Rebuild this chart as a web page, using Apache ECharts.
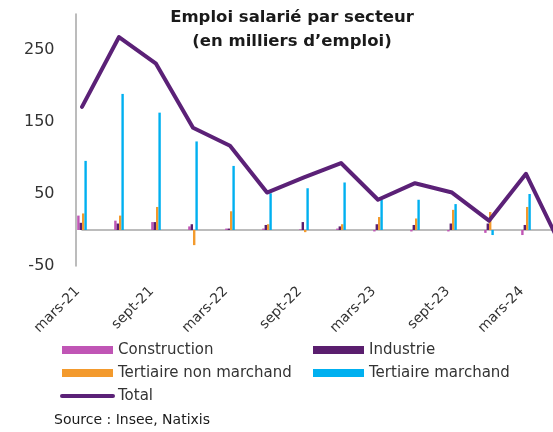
<!DOCTYPE html>
<html>
<head>
<meta charset="utf-8">
<script src="https://cdn.jsdelivr.net/npm/echarts@6/dist/echarts.min.js"></script>
<style>
  html, body { margin: 0; padding: 0; background: #fff; }
  #chart { width: 553px; height: 432px; }
</style>
</head>
<body>
<div id="chart"></div>
<script>
// trimestres
var categories = ["mars-21", "juin-21", "sept-21", "déc.-21", "mars-22", "juin-22", "sept-22",
  "déc.-22", "mars-23", "juin-23", "sept-23", "déc.-23", "mars-24", "juin-24"];
var construction = [20, 13, 11, 5, 2, 2, 1, 2, -2, -2, -2, -4, -7, -5];
var industrie = [10, 9, 11, 8, 2, 7, 11, 5, 8, 7, 9, 9, 7, 3];
var tertiaireNonMarchand = [23, 20, 32, -21, 26, 8, -3, 8, 18, 16, 28, 25, 32, 5];
var tertiaireMarchand = [96, 189, 163, 123, 89, 51, 58, 66, 42, 42, 36, -7, 50, -30];
var total = [171, 268, 231, 142, 117, 52, 73, 93, 42, 65, 52, 13, 78, -28];

var txt = "#333333";
var font = "DejaVu Sans";

function barSerie(name, data, color) {
  return {
    name: name,
    type: "bar",
    data: data,
    barWidth: 2.4,
    barGap: "0%",
    clip: false,
    itemStyle: { color: color }
  };
}

var legendBase = {
  orient: "vertical",
  top: 341,
  padding: 0,
  itemWidth: 51,
  itemHeight: 8,
  itemGap: 5,
  textStyle: { fontFamily: font, fontSize: 15, color: txt, lineHeight: 18 }
};

var myChart = echarts.init(document.getElementById("chart"));
var option = {
  animation: false,
  title: {
    text: "Emploi salarié par secteur\n(en milliers d’emploi)",
    left: 287,
    top: 1,
    textAlign: "center",
    textStyle: {
      fontFamily: font,
      fontSize: 16.5,
      fontWeight: "bold",
      color: "#1a1a1a",
      lineHeight: 24
    }
  },
  legend: [
    Object.assign({}, legendBase, {
      left: 60,
      data: [
        { name: "Construction", icon: "rect" },
        { name: "Tertiaire non marchand", icon: "rect" },
        {
          name: "Total",
          itemStyle: { opacity: 0 },
          lineStyle: { width: 4, cap: "round", color: "#5b2177" }
        }
      ]
    }),
    Object.assign({}, legendBase, {
      left: 313,
      data: [
        { name: "Industrie", icon: "rect" },
        { name: "Tertiaire marchand", icon: "rect" }
      ]
    })
  ],
  grid: {
    left: 82,
    width: 481,
    top: 14,
    bottom: 166,
    containLabel: false,
    outerBoundsMode: "none"
  },
  xAxis: [{
    type: "category",
    data: categories,
    boundaryGap: false,
    axisLine: { show: false, onZero: false },
    axisTick: { show: false },
    axisLabel: {
      interval: 1,
      rotate: 45,
      margin: 19,
      padding: [0, 6, 0, 0],
      fontFamily: font,
      fontSize: 14,
      color: txt
    }
  }, {
    type: "category",
    data: categories,
    position: "bottom",
    boundaryGap: false,
    axisLine: { onZero: true, lineStyle: { color: "#a6a6a6", width: 1.5 } },
    axisTick: { show: false },
    axisLabel: { show: false }
  }],
  yAxis: {
    type: "value",
    min: -50,
    max: 300,
    interval: 100,
    offset: 6.5,
    splitLine: { show: false },
    axisLine: { show: true, onZero: false, lineStyle: { color: "#a6a6a6", width: 1.5 } },
    axisTick: { show: false },
    axisLabel: {
      margin: 21,
      showMaxLabel: false,
      fontFamily: font,
      fontSize: 16,
      color: txt
    }
  },
  series: [
    barSerie("Construction", construction, "#c055b5"),
    barSerie("Industrie", industrie, "#5a1e6e"),
    barSerie("Tertiaire non marchand", tertiaireNonMarchand, "#f39a2d"),
    barSerie("Tertiaire marchand", tertiaireMarchand, "#00b0f0"),
    {
      name: "Total",
      type: "line",
      data: total,
      symbol: "none",
      clip: false,
      lineStyle: { color: "#5b2177", width: 4, cap: "round", join: "round" },
      itemStyle: { color: "#5b2177" }
    }
  ],
  graphic: [{
    type: "text",
    left: 54,
    top: 413,
    style: {
      text: "Source : Insee, Natixis",
      fontFamily: font,
      fontSize: 14,
      fill: "#1a1a1a"
    }
  }]
};
myChart.setOption(option);
window.addEventListener("resize", function () {
  myChart.resize();
});
</script>
</body>
</html>
